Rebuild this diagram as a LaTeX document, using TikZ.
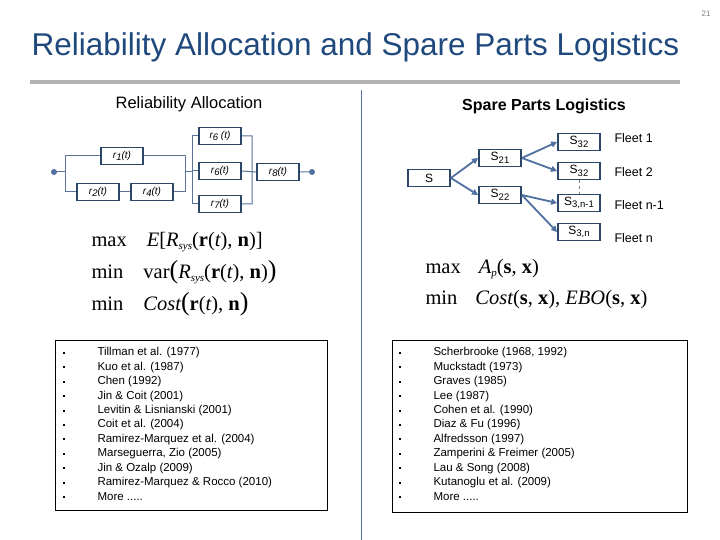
\documentclass[tikz,border=0pt]{standalone}
\usepackage{fontspec}
\setmainfont{Liberation Sans}
\newfontfamily\serifm{Liberation Serif}
\usetikzlibrary{arrows.meta}
\definecolor{ttl}{RGB}{31,73,125}
\definecolor{bx}{RGB}{44,70,105}
\definecolor{arr}{RGB}{79,112,160}
\newcommand\sbs[1]{\raisebox{-2.5pt}{\fontsize{9.5}{9}\selectfont #1}}
\newcommand\msb[1]{\raisebox{-3pt}{\fontsize{11}{9}\selectfont #1}}
\newcommand\moredots{.....}
\begin{document}
\begin{tikzpicture}[x=1pt,y=-1pt,
 rb/.style={draw=bx,line width=1.8pt,minimum width=42pt,minimum height=17pt,inner sep=0pt,font=\fontsize{10}{10}\selectfont\itshape},
 sb/.style={draw=bx,line width=1.8pt,minimum width=42pt,minimum height=17pt,inner sep=0pt,font=\fontsize{12}{12}\selectfont},
 wire/.style={draw=arr!80!gray,line width=1pt},
 ar/.style={draw=arr,line width=1.8pt,-{Triangle[length=6pt,width=6pt]}},
 fl/.style={anchor=west,font=\fontsize{12.5}{13}\selectfont},
 mth/.style={anchor=west,font=\serifm\fontsize{20.5}{22}\selectfont},
 lst/.style={anchor=west,font=\fontsize{11.5}{12}\selectfont}]
\useasboundingbox (0,0) rectangle (720,540);
\node[font=\fontsize{8}{9}\selectfont,text=gray] (pg) at (706,14) {21};
\node[anchor=west,text=ttl,font=\fontsize{31.5}{34}\selectfont] (title) at (28,47) {Reliability Allocation and Spare Parts Logistics};
\fill[gray!60] (30,80.5) rectangle (680,84);
\node[font=\fontsize{16.5}{18}\selectfont] (h1) at (189,104) {Reliability Allocation};
\node[font=\bfseries\fontsize{16}{18}\selectfont] (h2) at (544,106) {Spare Parts Logistics};
\draw[arr,line width=0.8pt] (361,90) -- (361,540);
% left block diagram
\node[rb] (r1) at (122,156) {r\sbs{1}(t)};
\node[rb] (r2) at (98,192) {r\sbs{2}(t)};
\node[rb] (r4) at (152,192) {r\sbs{4}(t)};
\node[rb] (r6a) at (220,136) {r\sbs{6} (t)};
\node[rb] (r6b) at (220,171) {r\sbs{6}(t)};
\node[rb] (r7) at (220,204) {r\sbs{7}(t)};
\node[rb] (r8) at (278,172) {r\sbs{8}(t)};
\coordinate (L) at (54,172);
\coordinate (R) at (312,172);
\fill[arr] (L) circle (3pt) (R) circle (3pt);
\draw[wire] (L) -- (65,172) (65,156) -- (65,192);
\draw[wire] (65,156) -- (r1.west) (65,192) -- (r2.west) (r2.east) -- (r4.west);
\draw[wire] (r1.east) -- (185,156) -- (185,192) -- (r4.east);
\draw[wire] (185,172) -- (192,172) (192,136) -- (192,204);
\draw[wire] (192,136) -- (r6a.west) (192,171) -- (r6b.west) (192,204) -- (r7.west);
\draw[wire] (r6a.east) -- (252,136) -- (252,204) -- (r7.east) (r6b.east) -- (r8.west) (r8.east) -- (R);
\node[mth] (m1) at (88,242) {max\hspace{20pt}\itshape E\upshape[\itshape R\msb{sys}\upshape(\textbf{r}(\itshape t\upshape), \textbf{n})]};
\node[mth] (m2) at (88,272) {min\hspace{20pt}var{\fontsize{26}{26}\selectfont(}\itshape R\msb{sys}\upshape(\textbf{r}(\itshape t\upshape), \textbf{n}){\fontsize{26}{26}\selectfont)}};
\node[mth] (m3) at (88,304) {min\hspace{20pt}\itshape Cost\upshape{\fontsize{26}{26}\selectfont(}\textbf{r}(\itshape t\upshape), \textbf{n}{\fontsize{26}{26}\selectfont)}};
% right tree
\node[sb] (S) at (429,178) {S};
\node[sb] (S21) at (500,158) {S\sbs{21}};
\node[sb] (S22) at (500,195) {S\sbs{22}};
\node[sb] (A) at (579,142) {S\sbs{32}};
\node[sb] (B) at (579,171) {S\sbs{32}};
\node[sb] (C) at (579,203) {S\sbs{3,n-1}};
\node[sb] (D) at (579,232) {S\sbs{3,n}};
\draw[ar] (S.east) -- (S21.west);
\draw[ar] (S.east) -- (S22.west);
\draw[ar] (S21.east) -- (A.west);
\draw[ar] (S21.east) -- (B.west);
\draw[ar] (S22.east) -- (C.west);
\draw[ar] (S22.east) -- (D.west);
\draw[gray,dashed,line width=0.5pt] (B.south) -- (C.north);
\node[fl] (f1) at (611,138) {Fleet 1};
\node[fl] (f2) at (611,172) {Fleet 2};
\node[fl] (f3) at (611,205) {Fleet n-1};
\node[fl] (f4) at (611,238) {Fleet n};
\node[mth] (m4) at (422,269) {max\hspace{18pt}\itshape A\msb{p}\upshape(\textbf{s}, \textbf{x})};
\node[mth] (m5) at (422,300) {min\hspace{18pt}\itshape Cost\upshape(\textbf{s}, \textbf{x}), \itshape EBO\upshape(\textbf{s}, \textbf{x})};
% lists
\draw[line width=0.8pt] (55,340) rectangle (327,510);
\draw[line width=0.8pt] (392,340) rectangle (687,512);
\foreach [count=\i from 0] \t in {Tillman et al. (1977),Kuo et al. (1987),Chen (1992),Jin \& Coit (2001),Levitin \& Lisnianski (2001),Coit et al. (2004),Ramirez-Marquez et al. (2004),{Marseguerra, Zio (2005)},Jin \& Ozalp (2009),Ramirez-Marquez \& Rocco (2010),More \moredots}{
 \node[lst] (la\i) at (94,353+14.4*\i) {\t};
 \fill (62.5,352+14.4*\i) rectangle ++(2,2);}
\foreach [count=\i from 0] \t in {{Scherbrooke (1968, 1992)},Muckstadt (1973),Graves (1985),Lee (1987),Cohen et al. (1990),Diaz \& Fu (1996),Alfredsson (1997),Zamperini \& Freimer (2005),Lau \& Song (2008),Kutanoglu et al. (2009),More \moredots}{
 \node[lst] (lb\i) at (430,353+14.4*\i) {\t};
 \fill (398.5,352+14.4*\i) rectangle ++(2,2);}
\end{tikzpicture}
\end{document}
